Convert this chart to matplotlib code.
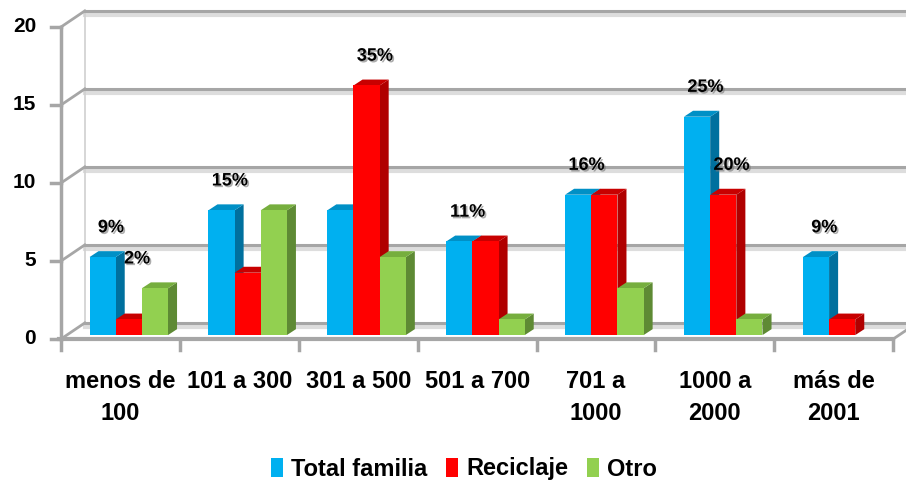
import matplotlib
matplotlib.use('Agg')
import matplotlib.pyplot as plt
import matplotlib.patheffects as pe
from matplotlib.patches import Polygon, Patch

categories = ['menos de\n100', '101 a 300', '301 a 500', '501 a 700',
              '701 a\n1000', '1000 a\n2000', 'más de\n2001']
total_familia = [5, 8, 8, 6, 9, 14, 5]
reciclaje = [1, 4, 16, 6, 9, 9, 1]
otro = [3, 8, 5, 1, 3, 1, 0]
series_names = ['Total familia', 'Reciclaje', 'Otro']
y_ticks = [0, 5, 10, 15, 20]
# bars that carry a percentage label: (series, category)
labelled = [(0, 0), (1, 0), (0, 1), (1, 2), (0, 3), (0, 4), (0, 5), (1, 5), (0, 6)]

plt.rcParams['font.family'] = ['Liberation Sans', 'DejaVu Sans']
plt.rcParams['font.weight'] = 'bold'

# front, side, top colours for each series
colours = [('#00B0F0', '#00709E', '#0090C6'),
           ('#FF0000', '#B00000', '#C80000'),
           ('#92D050', '#5E8A34', '#76AE3E')]
grid_col = '#A6A6A6'

fig = plt.figure(figsize=(9.06, 4.84), dpi=100)
ax = fig.add_axes([0, 0, 1, 1])
ax.set_xlim(-0.513, 7.107)
ax.set_ylim(-9.295, 21.73)
ax.axis('off')

n = len(categories)
DX, DY = 0.2, 1.03          # depth of the back wall
BW, X0, BASE = 0.22, 0.24, 0.25
SDX, SDY = 0.076, 0.38      # depth of a bar

# back wall, floor and left wall
for t in y_ticks:
    ax.plot([DX, n + DX + 0.5], [t + DY - 0.28] * 2, color='#DDDDDD', lw=3, zorder=1)
    ax.plot([DX, n + DX + 0.5], [t + DY] * 2, color=grid_col, lw=2.2, zorder=1.5)
    ax.plot([0, DX], [t, t + DY], color=grid_col, lw=2.0, zorder=1.5)
ax.plot([DX, DX], [DY, y_ticks[-1] + DY], color='#D0D0D0', lw=1.2, zorder=1)
ax.plot([n, n + DX], [0, DY], color=grid_col, lw=2.0, zorder=1.5)

# bars
values = [total_familia, reciclaje, otro]
for i in range(n):
    for s, vals in enumerate(values):
        v = vals[i]
        if v <= 0:
            continue
        x = i + X0 + s * BW
        front_c, side_c, top_c = colours[s]
        front = [(x, BASE), (x + BW, BASE), (x + BW, BASE + v), (x, BASE + v)]
        side = [(x + BW, BASE), (x + BW + SDX, BASE + SDY),
                (x + BW + SDX, BASE + v + SDY), (x + BW, BASE + v)]
        top = [(x, BASE + v), (x + SDX, BASE + v + SDY),
               (x + BW + SDX, BASE + v + SDY), (x + BW, BASE + v)]
        z = 3 + i + s * 0.1
        ax.add_patch(Polygon(side, closed=True, facecolor=side_c, edgecolor='none', zorder=z))
        ax.add_patch(Polygon(top, closed=True, facecolor=top_c, edgecolor='none', zorder=z))
        ax.add_patch(Polygon(front, closed=True, facecolor=front_c, edgecolor='none', zorder=z + 0.01))

# percentage labels
shadow = [pe.withSimplePatchShadow(offset=(1.2, -1.2), shadow_rgbFace='#777777', alpha=0.6)]
for s, i in labelled:
    vals = values[s]
    pct = round(vals[i] / sum(vals) * 100)
    nxt = values[s + 1][i] if s + 1 < len(values) else 0
    y = max(vals[i], nxt) + BASE + SDY + 1.5
    ax.text(i + X0 + s * BW + BW / 2 + 0.07, y, f'{pct}%', ha='center', va='center',
            fontsize=13, fontweight='bold', color='black', zorder=20, path_effects=shadow)

# left axis
ax.plot([0, 0], [0, y_ticks[-1]], color=grid_col, lw=2.5, zorder=15)
for t in y_ticks:
    ax.plot([-0.084, 0], [t, t], color=grid_col, lw=2.5, zorder=15)
    ax.text(-0.21, t, str(t), ha='right', va='center', fontsize=15, fontweight='bold')

# front axis
ax.plot([-0.02, n], [0, 0], color=grid_col, lw=3, zorder=15)
for i in range(n + 1):
    ax.plot([i, i], [0, -0.7], color=grid_col, lw=2.5, zorder=15)
for i, c in enumerate(categories):
    ax.text(i + 0.5, -2.0, c, ha='center', va='top', fontsize=17,
            fontweight='bold', linespacing=1.5)

handles = [Patch(facecolor=c[0]) for c in colours]
ax.legend(handles, series_names, loc='center', bbox_to_anchor=(0.512, 1 - 469 / 484),
          bbox_transform=fig.transFigure, ncol=3, frameon=False,
          prop={'size': 17, 'weight': 'bold'}, handlelength=0.5, handleheight=0.9,
          handletextpad=0.35, columnspacing=0.8, borderpad=0)

plt.savefig('out.png', dpi=100)
